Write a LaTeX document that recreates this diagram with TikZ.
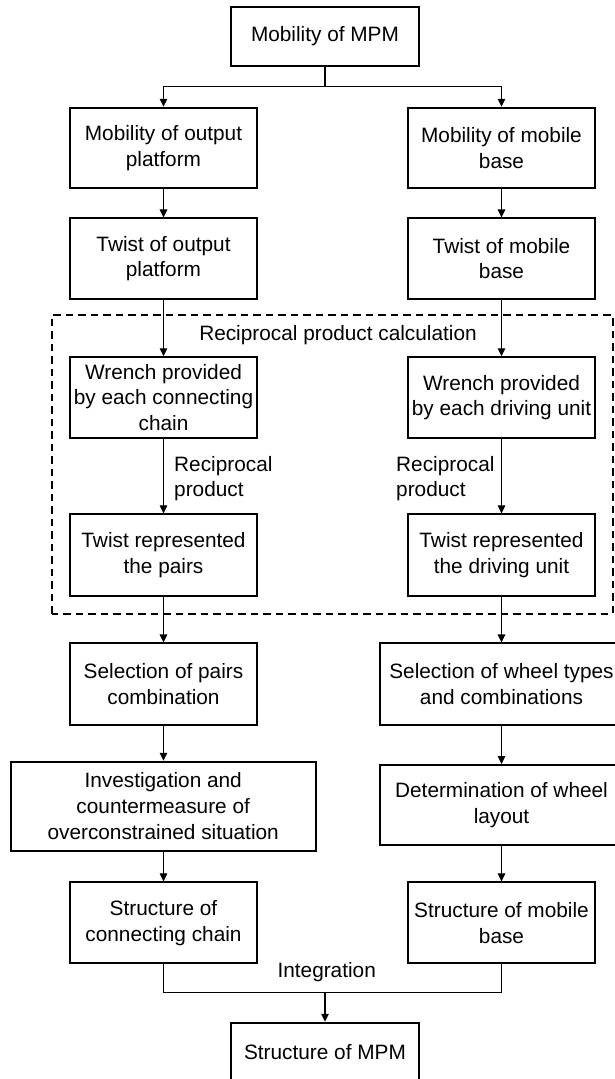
\documentclass[tikz,border=0pt]{standalone}
\usepackage{fontspec}
\setmainfont{Liberation Sans}
\usetikzlibrary{arrows.meta}
\begin{document}
\begin{tikzpicture}[x=1pt,y=1pt,
  font=\fontsize{20.8}{25.7}\selectfont,
  box/.style={draw, line width=1.8pt, align=center, inner sep=0pt,
    minimum width=187pt, minimum height=80.6pt},
  link/.style={line width=1.2pt},
  arr/.style={link, -{Triangle[length=8pt,width=7.5pt]}},
  frame/.style={draw, line width=2pt, dash pattern=on 7.5pt off 5pt},
  lbl/.style={inner sep=0pt, align=left}]
\useasboundingbox (0,0) rectangle (615,1079);
\fill[white] (0,0) rectangle (615,1079);
\clip (0,0) rectangle (615,1079);

% dashed frame around the reciprocal product stage
\draw[frame] (52,465) rectangle (612.5,763.8);
\node[inner sep=0pt] (rpc) at (338,744) {Reciprocal product calculation};

% top and bottom boxes
\node[box, minimum width=188pt, minimum height=58.4pt] (mpm) at (325,1042.5) {Mobility of MPM};
\node[box, minimum width=188pt, minimum height=58.4pt] (smpm) at (325,27.1) {Structure of MPM};

% left column
\node[box] (mop) at (163.5,931) {Mobility of output\\platform};
\node[box] (top) at (163.5,820.3) {Twist of output\\platform};
\node[box] (wl)  at (163.5,681.5) {Wrench provided\\by each connecting\\chain};
\node[box, minimum height=81.4pt] (tl) at (163.5,524) {Twist represented\\the pairs};
\node[box, minimum height=81.7pt] (sl) at (163.5,394.8) {Selection of pairs\\combination};
\node[box, minimum width=305pt, minimum height=89pt] (il) at (163.2,272.8) {Investigation and\\countermeasure of\\overconstrained situation};
\node[box, minimum height=81pt] (stl) at (163.5,156.2) {Structure of\\connecting chain};

% right column
\node[box] (mmb) at (501.5,931) {Mobility of mobile\\base};
\node[box] (tmb) at (501.5,820.3) {Twist of mobile\\base};
\node[box] (wr)  at (501.5,681.5) {Wrench provided\\by each driving unit};
\node[box, minimum height=81.4pt] (tr) at (501.5,524) {Twist represented\\the driving unit};
\node[box, minimum width=243pt, minimum height=81.7pt] (sr) at (501.5,394.8) {Selection of wheel types\\and combinations};
\node[box, minimum width=243pt, minimum height=80pt] (dr) at (501.5,274) {Determination of wheel\\layout};
\node[box, minimum height=81pt] (str) at (501.5,156.2) {Structure of mobile\\base};

% labels on connectors
\node[lbl, anchor=west] (rl) at (174,600.3) {Reciprocal\\product};
\node[lbl, anchor=west] (rr) at (396,600.3) {Reciprocal\\product};
\node[inner sep=0pt] (integ) at (326.7,106.7) {Integration};

% split and merge points
\coordinate (split) at (325,992.3);
\coordinate (merge) at (325,86.3);

% connectors
\draw[link] (mpm.south) -- (split);
\draw[arr] (split) -| (mop.north);
\draw[arr] (split) -| (mmb.north);

\draw[arr] (mop) -- (top);
\draw[arr] (top) -- (wl);
\draw[arr] (wl) -- (tl);
\draw[arr] (tl) -- (sl);
\draw[arr] (sl.south) -- (sl.south |- il.north);
\draw[arr] (il.south -| stl.north) -- (stl.north);

\draw[arr] (mmb) -- (tmb);
\draw[arr] (tmb) -- (wr);
\draw[arr] (wr) -- (tr);
\draw[arr] (tr) -- (sr);
\draw[arr] (sr) -- (dr);
\draw[arr] (dr) -- (str);

\draw[link] (stl.south) |- (merge) -| (str.south);
\draw[arr] (merge) -- (smpm.north);
\end{tikzpicture}
\end{document}
